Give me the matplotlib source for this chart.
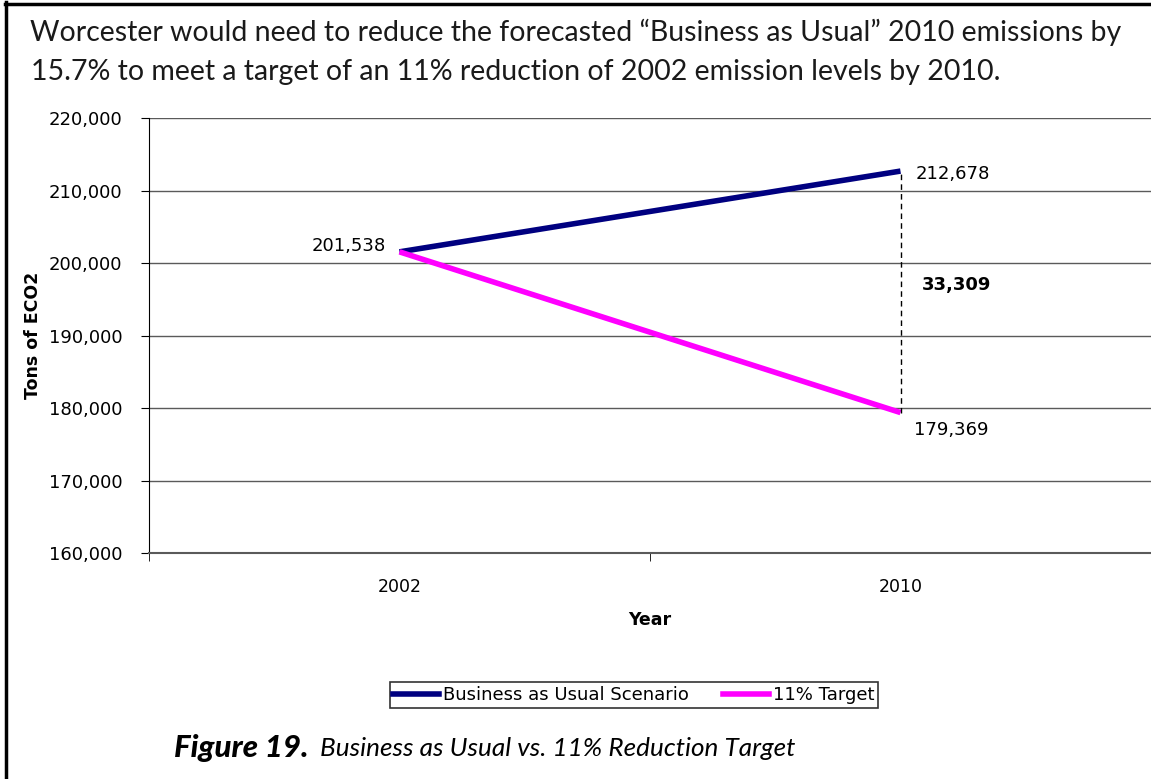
import matplotlib
matplotlib.use("Agg")
import matplotlib.pyplot as plt
from matplotlib.lines import Line2D

years = ["2002", "2010"]
bau = [201538, 212678]
target = [201538, 179369]
gap = 33309
series_names = ["Business as Usual Scenario", "11% Target"]
yticks = [160000, 170000, 180000, 190000, 200000, 210000, 220000]

title_lines = [
    "Worcester would need to reduce the forecasted \u201cBusiness as Usual\u201d 2010 emissions by",
    "15.7% to meet a target of an 11% reduction of 2002 emission levels by 2010.",
]
caption_num = "Figure 19."
caption_text = "Business as Usual vs. 11% Reduction Target"

W, H = 1151, 779
fig = plt.figure(figsize=(W / 100, H / 100), dpi=100)
fig.patch.set_facecolor("white")

ax = fig.add_axes([149 / W, 1 - 553 / H, (W - 149) / W, (553 - 118) / H])
x = list(range(len(years)))
ax.plot(x, bau, color="#000080", lw=4, solid_capstyle="butt", label=series_names[0], zorder=3)
ax.plot(x, target, color="#FF00FF", lw=4, solid_capstyle="butt", label=series_names[1], zorder=3)
ax.vlines(x[1], target[1], bau[1], colors="black", linestyles=(0, (4, 3)), lw=1, zorder=4)

ax.set_xlim(-0.5, 1.5)
ax.set_ylim(yticks[0], yticks[-1])
ax.set_yticks(yticks)
ax.set_yticklabels([f"{v:,}" for v in yticks])
ax.set_xticks(x)
ax.set_xticklabels(years)
ax.set_xticks([-0.5, 0.5, 1.5], minor=True)
ax.tick_params(axis="x", which="major", length=0, pad=18, labelsize=12.5)
ax.tick_params(axis="x", which="minor", length=6, direction="out", color="black")
ax.tick_params(axis="y", length=6, direction="out", labelsize=13, pad=13)
for s in ["top", "right"]:
    ax.spines[s].set_visible(False)
ax.spines["left"].set_color("black")
ax.spines["bottom"].set_color("#5a5a5a")
ax.spines["bottom"].set_linewidth(1.5)
ax.yaxis.grid(True, color="#5a5a5a", lw=1.0)
ax.set_axisbelow(True)

ax.set_xlabel("Year", fontweight="bold", fontsize=12.5, labelpad=11)
ax.set_ylabel("Tons of ECO2", fontweight="bold", fontsize=12.5, labelpad=5)

ax.annotate(f"{bau[0]:,}", (x[0], bau[0]), xytext=(-10, 4), textcoords="offset points",
            ha="right", va="center", fontsize=13)
ax.annotate(f"{bau[1]:,}", (x[1], bau[1]), xytext=(11, -2), textcoords="offset points",
            ha="left", va="center", fontsize=13)
ax.annotate(f"{target[1]:,}", (x[1], target[1]), xytext=(10, -12.5), textcoords="offset points",
            ha="left", va="center", fontsize=13)
ax.annotate(f"{gap:,}", (x[1], (bau[1] + target[1]) / 2), xytext=(15, 5), textcoords="offset points",
            ha="left", va="center", fontsize=13, fontweight="bold")

handles = [Line2D([], [], color="#000080", lw=4), Line2D([], [], color="#FF00FF", lw=4)]
leg = fig.legend(handles, series_names, loc="center", bbox_to_anchor=(634 / W, 1 - 695 / H),
                 ncol=2, frameon=True, fancybox=False, edgecolor="black", fontsize=13,
                 handlelength=2.55, handletextpad=0.22, columnspacing=1.9,
                 borderpad=0.2, borderaxespad=0)
leg.get_frame().set_linewidth(1.2)

fig.text(30 / W, 1 - 32 / H, title_lines[0], fontsize=20.5, family="Lato",
         color="#1a1a1a", va="center", ha="left")
fig.text(31 / W, 1 - 72 / H, title_lines[1], fontsize=20.5, family="Lato",
         color="#1a1a1a", va="center", ha="left")

fig.text(174 / W, 1 - 748 / H, caption_num, fontsize=22.5, family="Lato", fontweight="black",
         style="italic", va="center", ha="left")
fig.text(320 / W, 1 - 748 / H, caption_text, fontsize=18.8,
         family="Lato", style="italic", va="center", ha="left")

fig.add_artist(Line2D([6 / W, 6 / W], [0, 1 - 2 / H], transform=fig.transFigure, color="black", lw=2.5))
fig.add_artist(Line2D([5 / W, 1], [1 - 3.5 / H, 1 - 3.5 / H], transform=fig.transFigure, color="black", lw=2.5))

fig.savefig("out.png", dpi=100)
